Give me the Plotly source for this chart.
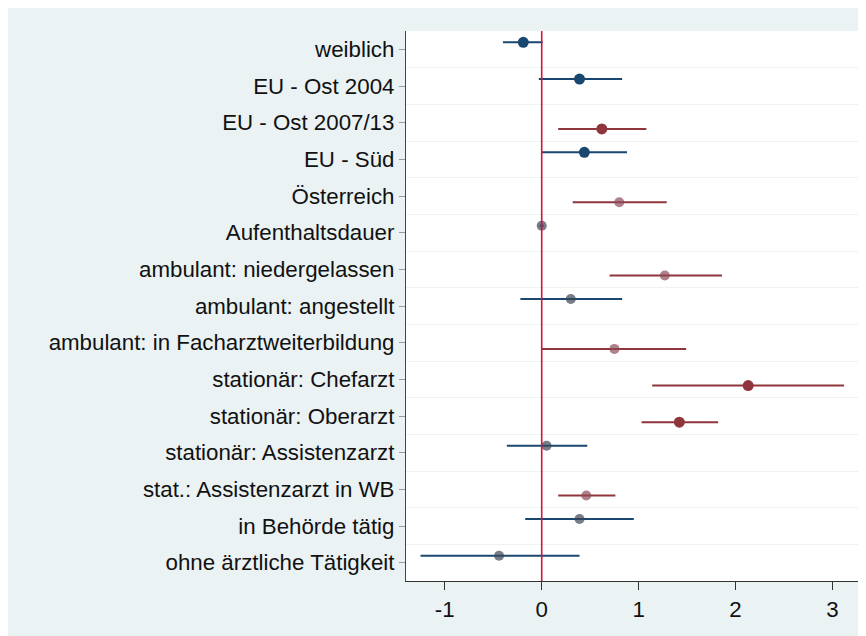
import plotly.graph_objects as go

categories = [
    "weiblich", "EU - Ost 2004", "EU - Ost 2007/13", "EU - Süd", "Österreich",
    "Aufenthaltsdauer", "ambulant: niedergelassen", "ambulant: angestellt",
    "ambulant: in Facharztweiterbildung", "stationär: Chefarzt", "stationär: Oberarzt",
    "stationär: Assistenzarzt", "stat.: Assistenzarzt in WB", "in Behörde tätig",
    "ohne ärztliche Tätigkeit",
]
estimate = [-0.19, 0.39, 0.62, 0.44, 0.80, 0.00, 1.27, 0.30, 0.75, 2.13, 1.42, 0.05, 0.46, 0.39, -0.44]
ci_low = [-0.40, -0.03, 0.17, 0.00, 0.32, -0.02, 0.70, -0.22, 0.00, 1.14, 1.03, -0.36, 0.17, -0.17, -1.25]
ci_high = [0.01, 0.83, 1.08, 0.88, 1.29, 0.02, 1.86, 0.83, 1.49, 3.12, 1.82, 0.47, 0.76, 0.95, 0.39]
group = ["blue", "blue", "red", "blue", "red", "blue", "red", "blue", "red", "red", "red", "blue", "red", "blue", "blue"]
solid = [True, True, True, True, False, False, False, False, False, True, True, False, False, False, False]
x_ticks = [-1, 0, 1, 2, 3]

colors = {"blue": "#1a476f", "red": "#90353b"}
ghost = {"blue": "rgba(60,70,85,0.7)", "red": "rgba(140,75,90,0.7)"}
offsets = {"blue": -0.19, "red": 0.17}

fig = go.Figure()
for g in ["blue", "red"]:
    idx = [i for i in range(len(categories)) if group[i] == g]
    xs = [estimate[i] for i in idx]
    ys = [i + 1 + offsets[g] for i in idx]
    plus = [ci_high[i] - estimate[i] for i in idx]
    minus = [estimate[i] - ci_low[i] for i in idx]
    mcol = [colors[g] if solid[i] else ghost[g] for i in idx]
    msize = [11 if solid[i] else 10 for i in idx]
    fig.add_trace(go.Scatter(
        x=xs, y=ys, mode="markers",
        marker=dict(color=mcol, size=msize, opacity=1, line=dict(width=0)),
        error_x=dict(type="data", symmetric=False, array=plus, arrayminus=minus,
                     color=colors[g], thickness=2, width=0),
        showlegend=False, hoverinfo="skip",
    ))

fig.add_shape(type="line", x0=0, x1=0, y0=0, y1=1, xref="x", yref="paper",
              line=dict(color="#d3123f", width=1.6), layer="above")

fig.update_layout(
    width=858, height=628,
    margin=dict(l=398, r=8, t=23, b=55),
    paper_bgcolor="#eaf2f3", plot_bgcolor="#ffffff",
    font=dict(family="Liberation Sans, Arial, sans-serif", size=22.3, color="#111111"),
)
fig.update_xaxes(
    range=[-1.40, 3.263], tickvals=x_ticks, ticktext=[str(v) for v in x_ticks],
    ticks="outside", ticklen=8, tickwidth=1.2, tickcolor="#333333",
    showline=True, linecolor="#333333", linewidth=1.2,
    showgrid=False, zeroline=False,
)
fig.update_yaxes(
    range=[15.5, 0.5], tickvals=list(range(1, len(categories) + 1)), ticktext=categories,
    ticks="outside", ticklen=6, tickwidth=1, tickcolor="#9a9a9a",
    showline=True, linecolor="#444444", linewidth=1.2,
    showgrid=False, zeroline=False,
    minor=dict(tickvals=[i + 0.5 for i in range(1, len(categories))], showgrid=True,
               gridcolor="#eef2f4", gridwidth=1, ticks=""),
)

fig.write_html("out.html")
